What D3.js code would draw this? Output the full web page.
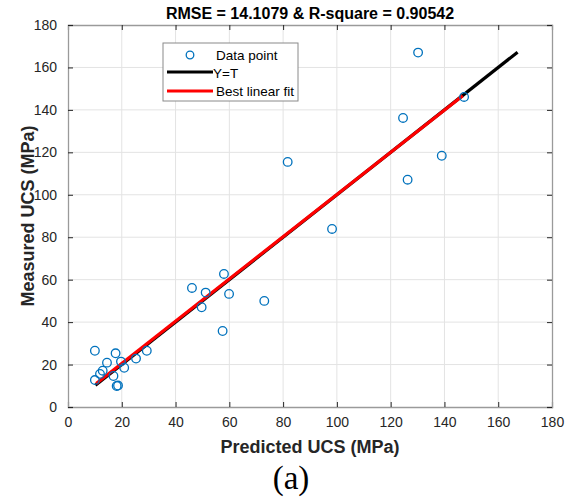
<!DOCTYPE html>
<html>
<head>
<meta charset="utf-8">
<script src="https://cdn.jsdelivr.net/npm/d3@7"></script>
<style>
  body { margin: 0; background: #fff; }
  svg { display: block; font-family: Arial, "Liberation Sans", sans-serif; }
</style>
</head>
<body>
<div id="chart"></div>
<script>
// Data (predicted vs measured UCS, MPa)
const predicted = [10.0, 10.0, 11.9, 12.9, 14.5, 17.7, 16.9, 18.1, 18.6, 19.7, 20.9, 25.3, 29.3,
                   46.1, 49.7, 51.2, 57.5, 58.0, 59.9, 73.0, 81.7, 98.2, 124.6, 126.3, 130.2, 139.0, 147.3];
const measured  = [26.5, 12.7, 15.6, 17.1, 20.9, 25.3, 14.6, 9.9, 10.1, 21.4, 18.5, 22.8, 26.5,
                   56.1, 47.0, 53.9, 35.8, 62.7, 53.3, 50.0, 115.5, 83.9, 136.2, 107.1, 167.0, 118.4, 146.1];

// Y=T line and best linear fit end points
const idealX = [10.2, 167.2];
const fitX = [10.5, 146.8];
const fitY = [11.1, 146.7];

const xTicks = d3.range(0, 181, 20);
const yTicks = d3.range(0, 181, 20);

const titleText = "RMSE = 14.1079 & R-square = 0.90542";
const xLabel = "Predicted UCS (MPa)";
const yLabel = "Measured UCS (MPa)";
const legendLabels = ["Data point", "Y=T", "Best linear fit"];

const width = 573, height = 498;
const margin = { left: 68, right: 21, top: 25, bottom: 91 };
const pw = width - margin.left - margin.right,
      ph = height - margin.top - margin.bottom;

const svg = d3.select("#chart").append("svg")
    .attr("width", width)
    .attr("height", height);

const x = d3.scaleLinear().domain([0, 180]).range([margin.left, margin.left + pw]);
const y = d3.scaleLinear().domain([0, 180]).range([margin.top + ph, margin.top]);

// grid
svg.append("g").selectAll("line.vg")
    .data(xTicks.slice(1, -1))
    .enter().append("line")
    .attr("x1", d => x(d)).attr("x2", d => x(d))
    .attr("y1", y(0)).attr("y2", y(180))
    .style("stroke", "#e3e3e3").style("stroke-width", 1);
svg.append("g").selectAll("line.hg")
    .data(yTicks.slice(1, -1))
    .enter().append("line")
    .attr("x1", x(0)).attr("x2", x(180))
    .attr("y1", d => y(d)).attr("y2", d => y(d))
    .style("stroke", "#e3e3e3").style("stroke-width", 1);

// axes (ticks inside, like matlab)
const xAxis = svg.append("g")
    .attr("transform", `translate(0,${y(0)})`)
    .call(d3.axisBottom(x).tickValues(xTicks).tickSize(-5).tickPadding(10));
const xAxisTop = svg.append("g")
    .attr("transform", `translate(0,${y(180)})`)
    .call(d3.axisTop(x).tickValues(xTicks).tickSize(-5).tickFormat(""));
const yAxis = svg.append("g")
    .attr("transform", `translate(${x(0)},0)`)
    .call(d3.axisLeft(y).tickValues(yTicks).tickSize(-5).tickPadding(11));
const yAxisRight = svg.append("g")
    .attr("transform", `translate(${x(180)},0)`)
    .call(d3.axisRight(y).tickValues(yTicks).tickSize(-5).tickFormat(""));

[xAxis, xAxisTop, yAxis, yAxisRight].forEach(g => {
    g.select(".domain").style("stroke", "#9a9a9a").style("stroke-width", 1.3);
    g.selectAll(".tick line").style("stroke", "#262626").style("stroke-width", 1);
    g.selectAll(".tick text")
        .style("font-size", "14px")
        .style("fill", "#262626")
        .style("font-family", "Arial, 'Liberation Sans', sans-serif");
});

// Y=T line
svg.append("line")
    .attr("x1", x(idealX[0])).attr("y1", y(idealX[0]))
    .attr("x2", x(idealX[1])).attr("y2", y(idealX[1]))
    .style("stroke", "#000").style("stroke-width", 3.2);

// best linear fit
svg.append("line")
    .attr("x1", x(fitX[0])).attr("y1", y(fitY[0]))
    .attr("x2", x(fitX[1])).attr("y2", y(fitY[1]))
    .style("stroke", "#ff0000").style("stroke-width", 3.2);

// data points
svg.append("g").selectAll("circle")
    .data(predicted.map((p, i) => [p, measured[i]]))
    .enter().append("circle")
    .attr("cx", d => x(d[0]))
    .attr("cy", d => y(d[1]))
    .attr("r", 4.3)
    .style("fill", "none")
    .style("stroke", "#0072BD")
    .style("stroke-width", 1.3);

// legend
const legend = svg.append("g").attr("transform", "translate(163,43)");
legend.append("rect")
    .attr("width", 135).attr("height", 58)
    .style("fill", "#fff").style("stroke", "#8a8a8a").style("stroke-width", 1);
legend.append("circle")
    .attr("cx", 27).attr("cy", 12).attr("r", 3.8)
    .style("fill", "none").style("stroke", "#0072BD").style("stroke-width", 1.3);
legend.append("line")
    .attr("x1", 4).attr("x2", 50).attr("y1", 29).attr("y2", 29)
    .style("stroke", "#000").style("stroke-width", 3);
legend.append("line")
    .attr("x1", 4).attr("x2", 50).attr("y1", 48).attr("y2", 48)
    .style("stroke", "#ff0000").style("stroke-width", 3);
legend.selectAll("text")
    .data(legendLabels)
    .enter().append("text")
    .attr("x", (d, i) => i === 1 ? 50 : 53)
    .attr("y", (d, i) => 12 + i * 18)
    .attr("dy", "0.35em")
    .style("font-size", "13.5px")
    .style("fill", "#000")
    .text(d => d);

// title and labels
svg.append("text")
    .attr("x", (x(0) + x(180)) / 2).attr("y", 19)
    .attr("text-anchor", "middle")
    .style("font-size", "16px").style("font-weight", "bold").style("fill", "#000")
    .text(titleText);

svg.append("text")
    .attr("x", (x(0) + x(180)) / 2).attr("y", 453)
    .attr("text-anchor", "middle")
    .style("font-size", "18px").style("font-weight", "bold").style("fill", "#262626")
    .text(xLabel);

svg.append("text")
    .attr("transform", `translate(34,${(y(0) + y(180)) / 2}) rotate(-90)`)
    .attr("text-anchor", "middle")
    .style("font-size", "18px").style("font-weight", "bold").style("fill", "#262626")
    .text(yLabel);

svg.append("text")
    .attr("x", 291).attr("y", 489)
    .attr("text-anchor", "middle")
    .style("font-family", "'Liberation Serif', 'Times New Roman', serif")
    .style("font-size", "33px").style("fill", "#000")
    .text("(a)");
</script>
</body>
</html>
